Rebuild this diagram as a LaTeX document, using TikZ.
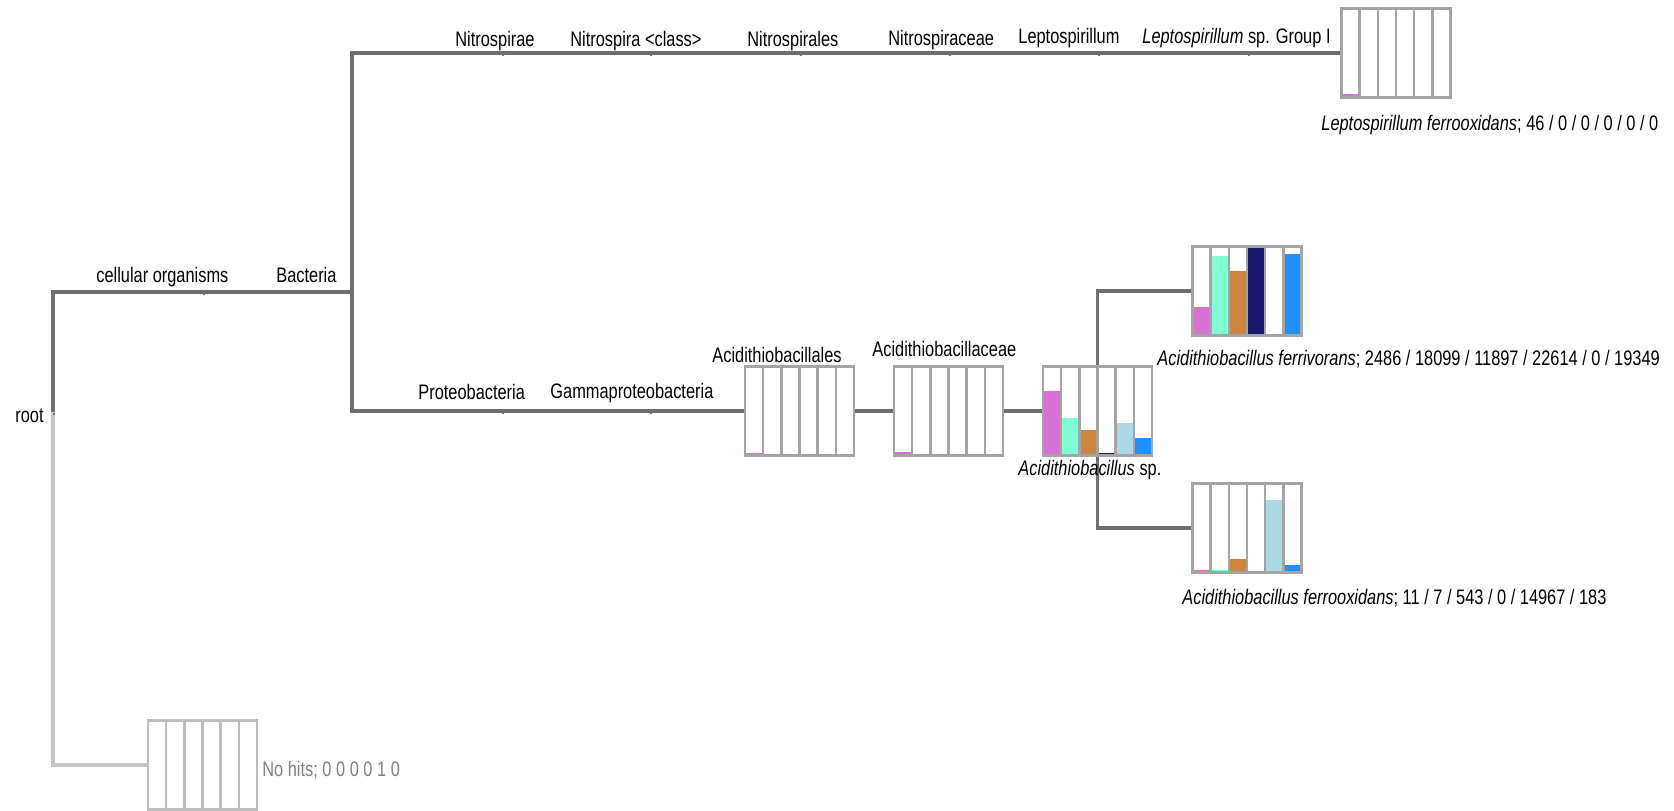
\documentclass[tikz,border=0pt]{standalone}
\usepackage{fontspec}
\setmainfont{Liberation Sans}[FakeStretch=0.78]
\usetikzlibrary{calc,backgrounds}
\definecolor{c1}{HTML}{DA70D6}
\definecolor{c2}{HTML}{7FFFD4}
\definecolor{c3}{HTML}{CD853F}
\definecolor{c4}{HTML}{191970}
\definecolor{c5}{HTML}{ADD8E6}
\definecolor{c6}{HTML}{1E90FF}
\definecolor{treeline}{HTML}{6E6E6E}
\definecolor{boxline}{HTML}{A4A4A4}
\definecolor{lightbox}{HTML}{BDBDBD}
\definecolor{lightline}{HTML}{C6C6C6}
\definecolor{greytext}{HTML}{808080}
\newcommand\taxbox[5]{%
  \node[tbox, draw=#4] (#1) at (#2,#3) {};
  \foreach \h [count=\i] in {#5} {
    \fill[fill=c\i] ($(#1.south west)+({(\i-1)*109/6},0)$) rectangle ($(#1.south west)+({\i*109/6},{-\h*89})$);
  }
  \foreach \i in {1,...,5} {\draw[boxedge, draw=#4] ($(#1.south west)+({\i*109/6},0)$) -- ++(0,-89);}
  \draw[boxedge, draw=#4] (#1.south west) rectangle (#1.north east);
}
\begin{document}
\begin{tikzpicture}[x=0.5pt,y=-0.5pt,
  tbox/.style={rectangle, minimum width=54.5pt, minimum height=44.5pt, inner sep=0pt, outer sep=0pt, fill=white, line width=1.2pt},
  boxedge/.style={line width=1.2pt},
  tree/.style={draw=treeline, line width=1.6pt},
  lighttree/.style={draw=lightline, line width=1.6pt},
  lab/.style={inner sep=0pt, font=\fontsize{10.5}{12}\selectfont, text=black, anchor=base west}]
\useasboundingbox (0,0) rectangle (1674,810);

% junctions of the tree
\coordinate (root) at (53,412);
\coordinate (cell) at (203,292);
\coordinate (bact) at (352,292);
\coordinate (nitrae) at (502,53);
\coordinate (nitcls) at (650,53);
\coordinate (nitles) at (800,53);
\coordinate (nitceae) at (949,53);
\coordinate (lepto) at (1098,53);
\coordinate (leptoI) at (1248,53);
\coordinate (proteo) at (502,411);
\coordinate (gamma) at (650,411);

% bar boxes
\taxbox{leptobox}{1396}{53}{boxline}{0.04,0,0,0,0,0}
\taxbox{ordbox}{799.5}{411}{boxline}{0.03,0,0,0,0,0}
\taxbox{fambox}{948.5}{411}{boxline}{0.04,0,0,0,0,0}
\taxbox{spbox}{1097.5}{411}{boxline}{0.72,0.42,0.29,0.03,0.37,0.20}
\taxbox{ferrivbox}{1247}{291}{boxline}{0.32,0.89,0.72,1,0,0.92}
\taxbox{ferroxbox}{1247}{528}{boxline}{0.03,0.03,0.15,0,0.81,0.08}
\taxbox{nohitbox}{202.5}{765}{lightbox}{0,0,0,0,0,0}

% labels
\node[lab, anchor=base east] (rootlab) at (44,422) {root};
\node[lab] (celllab) at (96,282) {cellular organisms};
\node[lab] (bactlab) at (276,282) {Bacteria};
\node[lab] (nitraelab) at (455,46) {Nitrospirae};
\node[lab] (nitclslab) at (570,46) {Nitrospira <class>};
\node[lab] (nitleslab) at (747,46) {Nitrospirales};
\node[lab] (nitceaelab) at (888,45) {Nitrospiraceae};
\node[lab] (leptolab) at (1018,43) {Leptospirillum};
\node[lab] (leptoIlab) at (1142,43) {\textit{Leptospirillum} sp. Group I};
\node[lab] (leptoboxlab) at (1321,130) {\textit{Leptospirillum ferrooxidans}; 46 / 0 / 0 / 0 / 0 / 0};
\node[lab] (proteolab) at (418,399) {Proteobacteria};
\node[lab] (gammalab) at (550,398) {Gammaproteobacteria};
\node[lab] (ordlab) at (712,362) {Acidithiobacillales};
\node[lab] (famlab) at (872,356) {Acidithiobacillaceae};
\node[lab] (splab) at (1018,475) {\textit{Acidithiobacillus} sp.};
\node[lab] (ferrivlab) at (1157,365) {\textit{Acidithiobacillus ferrivorans}; 2486 / 18099 / 11897 / 22614 / 0 / 19349};
\node[lab] (ferroxlab) at (1182,604) {\textit{Acidithiobacillus ferrooxidans}; 11 / 7 / 543 / 0 / 14967 / 183};
\node[lab, text=greytext] (nohitlab) at (262,776) {No hits; 0 0 0 0 1 0};

% node marks
\foreach \n in {root,cell,bact,nitrae,nitcls,nitles,nitceae,lepto,leptoI,proteo,gamma}
  \fill[treeline] ($(\n)+(1,2)$) circle (0.7pt);

% connectors
\begin{pgfonlayer}{background}
\fill[white] (0,0) rectangle (1674,810);
\draw[lighttree] (root) |- (nohitbox.west);
\draw[tree] (root) |- (cell);
\draw[tree] (cell) -- (bact);
\draw[tree] (bact) |- (nitrae);
\draw[tree] (bact) |- (proteo);
\draw[tree] (nitrae) -- (nitcls);
\draw[tree] (nitcls) -- (nitles);
\draw[tree] (nitles) -- (nitceae);
\draw[tree] (nitceae) -- (lepto);
\draw[tree] (lepto) -- (leptoI);
\draw[tree] (leptoI) -- (leptobox.west);
\draw[tree] (proteo) -- (gamma);
\draw[tree] (gamma) -- (ordbox.west);
\draw[tree] (ordbox.east) -- (fambox.west);
\draw[tree] (fambox.east) -- (spbox.west);
\draw[tree] (spbox.center) |- (ferrivbox.west);
\draw[tree] (spbox.center) |- (ferroxbox.west);
\end{pgfonlayer}
\end{tikzpicture}
\end{document}
